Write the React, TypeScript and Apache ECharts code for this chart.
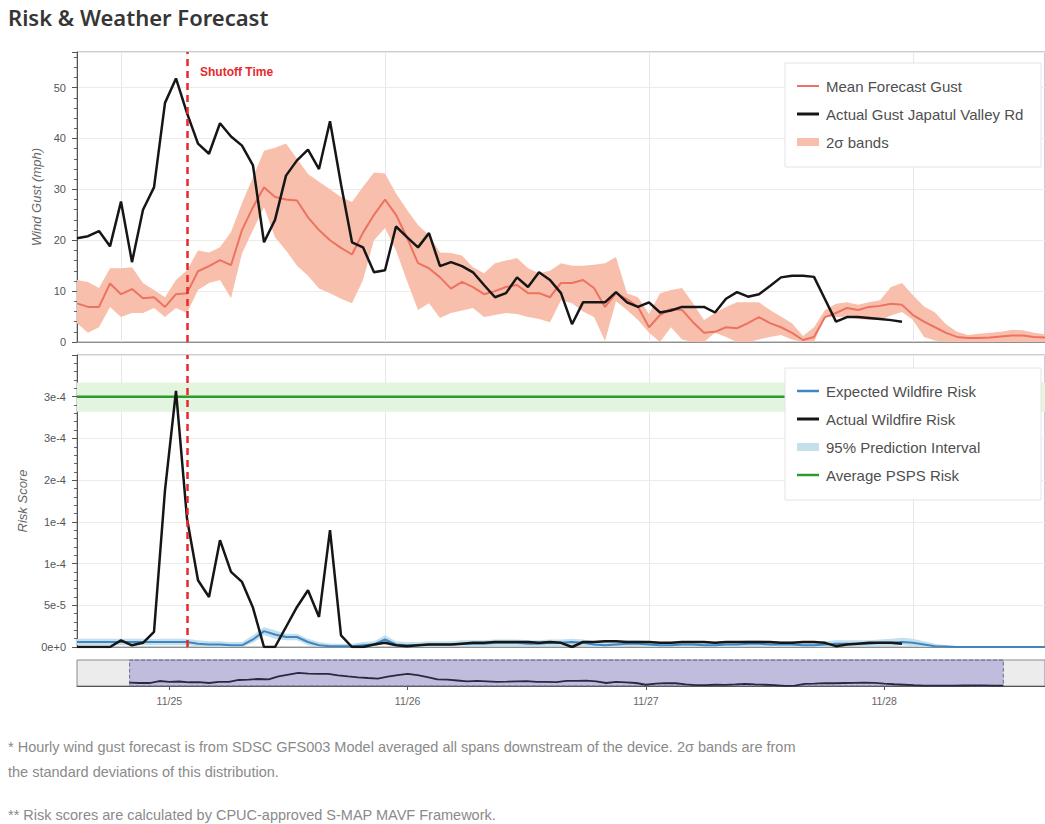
import React, { useEffect, useRef } from 'react';
import * as echarts from 'echarts';

// ---- time frame ----
const HOUR = 3600 * 1000;
const DAY = 24 * HOUR;
const START = new Date(2019, 10, 24, 20, 0).getTime(); // first hourly sample
const MAIN_MIN = START;
const MAIN_MAX = new Date(2019, 10, 28, 12, 0).getTime();
const OVERVIEW_MIN = new Date(2019, 10, 24, 14, 42).getTime();
const OVERVIEW_MAX = new Date(2019, 10, 28, 16, 12).getTime();
const SHUTOFF = new Date(2019, 10, 25, 6, 0).getTime();
const PSPS_END = new Date(2019, 10, 28, 11, 0).getTime();

// ---- wind gust (mph), hourly from 11/24 20:00 ----
const gustMean = [
  7.6, 6.9, 6.9, 11.5,
  9.4, 10.4, 8.6, 8.8, 6.9, 9.4, 9.6, 13.9, 14.9, 16.1, 15.1, 22, 26.5, 30.4, 28.5, 28, 27.8, 24.5, 22, 20, 18.5, 17.2, 21.5, 25,
  28, 25, 20.5, 15.5, 14.5, 12.7, 10.5, 11.8, 10.8, 9.4, 10, 10.8, 11.2, 9.6, 9.6, 8.8, 11.6, 11.6, 12.2, 10.6, 6.9, 9.6, 8.4, 6.9,
  2.9, 5.3, 6.5, 6.3, 3.9, 1.8, 2.0, 2.9, 2.7, 3.7, 4.9, 3.7, 2.9, 1.8, 0.4, 1.0, 4.9, 5.7, 6.7, 6.3, 6.9, 7.1, 7.5, 7.3,
  5.3, 4.0, 2.9, 1.8, 1.0, 0.8, 0.8, 0.9, 1.1, 1.3, 1.3, 1.0, 0.9,
];
const gustUpper = [
  12.2, 11.8, 10.6, 14.5,
  14.5, 14.7, 11.6, 10.2, 8.8, 12.2, 14.1, 18, 17.6, 18.6, 21.6, 27.3, 32.4, 37.6, 38.2, 39, 36, 33, 31.5, 30, 28.5, 27.5, 30.5, 33.3,
  33.1, 29.2, 26, 23, 21, 17.6, 17.5, 17, 14.7, 13.5, 15.5, 16, 16.5, 14.5, 13.5, 14, 15.5, 15, 15, 15.2, 15.5, 16.7, 9.6, 8.8,
  5.5, 9.6, 10.2, 10.6, 7.6, 4.3, 5.7, 6.9, 7.8, 7.8, 7.8, 6.3, 5, 3.7, 1.2, 2.9, 6.3, 7.5, 7.8, 7.3, 7.8, 8.2, 10.8, 11.6,
  9.2, 7, 5.8, 3.5, 2.0, 1.4, 1.6, 1.8, 2.0, 2.4, 2.3, 1.8, 1.5,
];
const gustLower = [
  3.7, 1.8, 2.9, 6.9,
  4.9, 5.7, 5.7, 6.7, 4.9, 6.7, 5.7, 10.2, 11.6, 12.2, 8.6, 17.4, 22, 26.5, 20.6, 18, 15, 13, 10.5, 9.6, 8.5, 7.6, 12.2, 20,
  22.4, 18, 12, 6.3, 7.6, 4.7, 5.7, 6.2, 6.7, 4.9, 5.3, 5.7, 5.5, 4.9, 4.5, 3.9, 8.2, 7.6, 6, 4.9, 0.2, 8, 6.3, 4.3,
  1.8, 0, 2.9, 0.5, 0, 0, 1.8, 1.0, 0, 0, 0.5, 1.0, 1.4, 0.5, 0, 0, 4.9, 4.9, 4.9, 4.5, 4.3, 4.3, 5.2, 5.9,
  4.3, 1.0, 0.3, 0, 0, 0, 0, 0, 0, 0, 0, 0, 0,
];
const gustActual = [
  20.4, 20.8, 21.8, 18.8,
  27.6, 15.7, 26, 30.4, 47, 51.8, 45, 39, 37, 43, 40.4, 38.6, 34.7, 19.6, 24, 32.7, 35.7, 37.8, 34, 43.4, 31, 19.6, 18.6, 13.7,
  14.1, 22.7, 20.6, 18.6, 21.4, 14.9, 15.7, 14.9, 13.7, 11.2, 8.8, 9.6, 12.7, 10.8, 13.7, 12.2, 9.6, 3.5, 7.8, 7.8, 7.8, 9.8, 7.8, 6.9,
  7.8, 5.8, 6.2, 6.9, 6.9, 6.9, 5.8, 8.5, 9.8, 8.9, 9.4, 11, 12.7, 13, 13, 12.8, 8.4, 4.0, 4.9, 4.9, 4.7, 4.5, 4.3, 4.0,
];

// ---- risk scores, in units of 1e-5, hourly from 11/24 20:00 ----
const riskActual = [
  0, 0, 0, 0,
  0.8, 0.2, 0.5, 1.8, 18.8, 30.7, 15.4, 8, 6, 12.8, 9, 7.8, 4.7, 0, 0, 2.4, 4.8, 6.8, 3.6, 14, 1.4, 0, 0, 0.3,
  0.5, 0.2, 0.1, 0.2, 0.3, 0.3, 0.3, 0.4, 0.5, 0.5, 0.6, 0.6, 0.6, 0.6, 0.5, 0.6, 0.5, 0, 0.6, 0.6, 0.7, 0.7, 0.6, 0.6,
  0.6, 0.5, 0.5, 0.6, 0.6, 0.6, 0.5, 0.6, 0.6, 0.6, 0.6, 0.6, 0.5, 0.5, 0.6, 0.6, 0.5, 0.1, 0.3, 0.4, 0.5, 0.5, 0.5, 0.4,
];
const riskExpected = [
  0.6, 0.6, 0.6, 0.6,
  0.6, 0.6, 0.6, 0.6, 0.6, 0.6, 0.6, 0.4, 0.3, 0.3, 0.2, 0.2, 0.9, 1.9, 1.5, 1.2, 1.2, 0.6, 0.2, 0.1, 0.1, 0.1, 0.2, 0.3,
  0.9, 0.3, 0.2, 0.2, 0.3, 0.3, 0.3, 0.4, 0.4, 0.4, 0.5, 0.5, 0.5, 0.4, 0.4, 0.5, 0.5, 0.6, 0.5, 0.3, 0.2, 0.3, 0.4, 0.4,
  0.3, 0.2, 0.2, 0.3, 0.3, 0.2, 0.2, 0.3, 0.3, 0.4, 0.4, 0.3, 0.3, 0.3, 0.2, 0.2, 0.3, 0.4, 0.4, 0.4, 0.4, 0.5, 0.5, 0.6,
  0.5, 0.3, 0.1, 0.05, 0, 0, 0, 0, 0, 0, 0, 0, 0,
];
const riskPiHigh = [
  1.0, 1.0, 1.0, 1.0,
  1.0, 1.0, 1.0, 1.0, 1.0, 1.0, 1.0, 0.8, 0.7, 0.7, 0.6, 0.6, 1.4, 2.4, 2.0, 1.6, 1.6, 1.0, 0.6, 0.4, 0.4, 0.4, 0.6, 0.7,
  1.4, 0.7, 0.6, 0.6, 0.7, 0.7, 0.7, 0.8, 0.8, 0.8, 0.9, 0.9, 0.9, 0.8, 0.8, 0.9, 0.9, 1.0, 0.9, 0.7, 0.6, 0.7, 0.8, 0.8,
  0.7, 0.6, 0.6, 0.7, 0.7, 0.6, 0.6, 0.7, 0.7, 0.8, 0.8, 0.7, 0.7, 0.7, 0.6, 0.6, 0.7, 0.8, 0.8, 0.8, 0.8, 0.9, 1.0, 1.1,
  1.0, 0.7, 0.4, 0.2, 0.1, 0.1, 0.1, 0.1, 0.1, 0.1, 0.1, 0.1, 0.1,
];
const riskPiLow = [
  0.2, 0.2, 0.2, 0.2,
  0.2, 0.2, 0.2, 0.2, 0.2, 0.2, 0.2, 0.1, 0, 0, 0, 0, 0.5, 1.4, 1.0, 0.8, 0.8, 0.2, 0, 0, 0, 0, 0, 0,
  0.5, 0, 0, 0, 0, 0, 0, 0.1, 0.1, 0.1, 0.1, 0.1, 0.1, 0.1, 0.1, 0.1, 0.1, 0.2, 0.1, 0, 0, 0, 0.1, 0.1,
  0, 0, 0, 0, 0, 0, 0, 0, 0, 0.1, 0.1, 0, 0, 0, 0, 0, 0, 0.1, 0.1, 0.1, 0.1, 0.1, 0.1, 0.2,
  0.1, 0, 0, 0, 0, 0, 0, 0, 0, 0, 0, 0, 0,
];
const pspsAverage = 30; // 3e-4
const pspsBand = [28.2, 31.7];

// ---- tick labels ----
const riskTickLabels = ['0e+0', '5e-5', '1e-4', '1e-4', '2e-4', '3e-4', '3e-4'];
const gustTickLabels = ['0', '10', '20', '30', '40', '50'];

// ---- text ----
const TITLE = 'Risk & Weather Forecast';
const FOOTNOTES = [
  '* Hourly wind gust forecast is from SDSC GFS003 Model averaged all spans downstream of the device. 2σ bands are from',
  'the standard deviations of this distribution.',
  '** Risk scores are calculated by CPUC-approved S-MAP MAVF Framework.',
];
const gustLegend = ['Mean Forecast Gust', 'Actual Gust Japatul Valley Rd', '2σ bands'];
const riskLegend = ['Expected Wildfire Risk', 'Actual Wildfire Risk', '95% Prediction Interval', 'Average PSPS Risk'];

const C = {
  mean: '#ec7262',
  band: '#f8c0ac',
  black: '#161616',
  blue: '#3f86c3',
  pi: '#c4e0ec',
  green: '#2c9a2c',
  greenBand: '#e3f5df',
  red: '#e8282c',
};

const hourly = (arr: number[]) => arr.map((v, i) => [START + i * HOUR, v]);

const FONT = '"Liberation Sans", Arial, sans-serif';

function legendBox(x: number, y: number, w: number, h: number, items: { label: string; kind: 'line' | 'rect'; color: string; width?: number }[]) {
  const els: any[] = [
    { type: 'rect', z: 100, shape: { x, y, width: w, height: h }, style: { fill: '#ffffff', stroke: '#e4e4e4', lineWidth: 1 } },
  ];
  items.forEach((it, k) => {
    const cy = y + 23 + k * 28;
    if (it.kind === 'line') {
      els.push({ type: 'line', z: 101, shape: { x1: x + 12, y1: cy, x2: x + 34, y2: cy }, style: { stroke: it.color, lineWidth: it.width || 2 } });
    } else {
      els.push({ type: 'rect', z: 101, shape: { x: x + 12, y: cy - 4, width: 22, height: 8 }, style: { fill: it.color } });
    }
    els.push({
      type: 'text', z: 101, x: x + 41, y: cy,
      style: { text: it.label, fill: '#4f4f4f', font: `15px ${FONT}`, verticalAlign: 'middle', align: 'left' },
    });
  });
  return els;
}

export default function App() {
  const ref = useRef<HTMLDivElement>(null);

  useEffect(() => {
    if (!ref.current) return;
    const chart = echarts.init(ref.current, undefined, { renderer: 'svg' });

    const bandDiff = gustUpper.map((u, i) => u - gustLower[i]);
    const piDiff = riskPiHigh.map((u, i) => u - riskPiLow[i]);

    const mainX = (gridIndex: number) => ({
      gridIndex,
      type: 'time',
      min: MAIN_MIN,
      max: MAIN_MAX,
      minInterval: DAY,
      maxInterval: DAY,
      axisLabel: { show: false },
      axisTick: { show: false },
      axisLine: { show: true, lineStyle: { color: '#8f8f8f' } },
      splitLine: { show: true, lineStyle: { color: '#e8e8e8', width: 1 } },
    });

    const yCommon = {
      type: 'value',
      nameLocation: 'middle',
      nameTextStyle: { fontStyle: 'italic', fontSize: 13, color: '#666', fontFamily: FONT },
      axisLine: { show: true, lineStyle: { color: '#555' } },
      axisTick: { show: true, length: 5, lineStyle: { color: '#555' } },
      minorTick: { show: true, splitNumber: 5, length: 3, lineStyle: { color: '#666' } },
      splitLine: { show: true, lineStyle: { color: '#ebebeb' } },
    };

    const option: any = {
      animation: false,
      backgroundColor: '#ffffff',
      grid: [
        { left: 77, top: 52, width: 975, height: 290, show: true, borderColor: '#9a9a9a', borderWidth: 1 },
        { left: 77, top: 355, width: 975, height: 292, show: true, borderColor: '#9a9a9a', borderWidth: 1 },
        { left: 77, top: 660, width: 975, height: 26, show: true, backgroundColor: '#ececec', borderColor: '#8a8a8a', borderWidth: 1 },
      ],
      xAxis: [
        mainX(0),
        mainX(1),
        {
          gridIndex: 2,
          type: 'time',
          min: OVERVIEW_MIN,
          max: OVERVIEW_MAX,
          minInterval: DAY,
          maxInterval: DAY,
          axisLine: { show: true, lineStyle: { color: '#555' } },
          axisTick: { show: true, length: 4, lineStyle: { color: '#555' } },
          axisLabel: {
            formatter: '{MM}/{dd}', color: '#666', fontSize: 10.5, margin: 9, fontFamily: FONT,
            showMinLabel: false, showMaxLabel: false,
          },
          splitLine: { show: false },
        },
      ],
      yAxis: [
        {
          ...yCommon, gridIndex: 0, min: 0, max: 57, interval: 10,
          name: 'Wind Gust (mph)', nameGap: 30,
          axisLabel: {
            color: '#555', fontSize: 11, margin: 11, fontFamily: FONT, showMaxLabel: false,
            formatter: (v: number) => gustTickLabels[Math.round(v / 10)] ?? '',
          },
        },
        {
          ...yCommon, gridIndex: 1, min: 0, max: 35, interval: 5,
          name: 'Risk Score', nameGap: 48,
          axisLabel: {
            color: '#555', fontSize: 11, margin: 11, fontFamily: FONT, showMaxLabel: false,
            formatter: (v: number) => riskTickLabels[Math.round(v / 5)] ?? '',
          },
        },
        { gridIndex: 2, type: 'value', min: 0, max: 60, show: false },
      ],
      series: [
        // ---- gust panel ----
        {
          name: 'bandBase', type: 'line', xAxisIndex: 0, yAxisIndex: 0, stack: 'gust',
          data: hourly(gustLower), showSymbol: false, silent: true,
          lineStyle: { opacity: 0 },
        },
        {
          name: '2σ bands', type: 'line', xAxisIndex: 0, yAxisIndex: 0, stack: 'gust',
          data: hourly(bandDiff), showSymbol: false, silent: true,
          lineStyle: { opacity: 0 }, areaStyle: { color: C.band, opacity: 1 },
        },
        {
          name: 'Mean Forecast Gust', type: 'line', xAxisIndex: 0, yAxisIndex: 0,
          data: hourly(gustMean), showSymbol: false,
          lineStyle: { color: C.mean, width: 2 },
        },
        {
          name: 'Actual Gust Japatul Valley Rd', type: 'line', xAxisIndex: 0, yAxisIndex: 0,
          data: hourly(gustActual), showSymbol: false,
          lineStyle: { color: C.black, width: 2.5 },
          markLine: {
            silent: true, symbol: ['none', 'none'], label: { show: false },
            lineStyle: { color: C.red, type: [7, 5], width: 2.5 },
            data: [{ xAxis: SHUTOFF }],
          },
        },
        // ---- risk panel ----
        {
          name: 'Average PSPS Risk', type: 'line', xAxisIndex: 1, yAxisIndex: 1,
          data: [[MAIN_MIN, pspsAverage], [PSPS_END, pspsAverage]], showSymbol: false,
          lineStyle: { color: C.green, width: 2.5 },
          markArea: {
            silent: true, itemStyle: { color: C.greenBand },
            data: [[{ yAxis: pspsBand[0] }, { yAxis: pspsBand[1] }]],
          },
        },
        {
          name: 'pspsEnd', type: 'scatter', xAxisIndex: 1, yAxisIndex: 1,
          data: [[PSPS_END, pspsAverage]], symbol: 'circle', symbolSize: 5,
          itemStyle: { color: C.green }, silent: true,
        },
        {
          name: 'piBase', type: 'line', xAxisIndex: 1, yAxisIndex: 1, stack: 'risk',
          data: hourly(riskPiLow), showSymbol: false, silent: true, lineStyle: { opacity: 0 },
        },
        {
          name: '95% Prediction Interval', type: 'line', xAxisIndex: 1, yAxisIndex: 1, stack: 'risk',
          data: hourly(piDiff), showSymbol: false, silent: true,
          lineStyle: { opacity: 0 }, areaStyle: { color: C.pi, opacity: 1 },
        },
        {
          name: 'Expected Wildfire Risk', type: 'line', xAxisIndex: 1, yAxisIndex: 1,
          data: hourly(riskExpected), showSymbol: false,
          lineStyle: { color: C.blue, width: 2 },
        },
        {
          name: 'Actual Wildfire Risk', type: 'line', xAxisIndex: 1, yAxisIndex: 1,
          data: hourly(riskActual), showSymbol: false,
          lineStyle: { color: C.black, width: 2.5 },
          markLine: {
            silent: true, symbol: ['none', 'none'], label: { show: false },
            lineStyle: { color: C.red, type: [7, 5], width: 2.5 },
            data: [{ xAxis: SHUTOFF }],
          },
        },
        // ---- overview ----
        {
          name: 'overview', type: 'line', xAxisIndex: 2, yAxisIndex: 2,
          data: hourly(gustMean), showSymbol: false, silent: true,
          lineStyle: { color: '#2a2840', width: 1.8 },
          markArea: {
            silent: true,
            itemStyle: { color: 'rgba(140,130,205,0.45)', borderColor: '#6a6a8a', borderWidth: 1, borderType: 'dashed' },
            data: [[{ xAxis: MAIN_MIN }, { xAxis: MAIN_MAX }]],
          },
        },
      ],
      graphic: [
        {
          type: 'text', z: 100, x: 8, y: 17,
          style: { text: TITLE, fill: '#363636', font: `600 22px "Noto Sans", sans-serif`, verticalAlign: 'middle' },
        },
        {
          type: 'text', z: 100, x: 200, y: 72,
          style: { text: 'Shutoff Time', fill: C.red, font: `bold 12px ${FONT}`, verticalAlign: 'middle' },
        },
        ...legendBox(785, 63, 256, 104, [
          { label: gustLegend[0], kind: 'line', color: C.mean, width: 2 },
          { label: gustLegend[1], kind: 'line', color: C.black, width: 3 },
          { label: gustLegend[2], kind: 'rect', color: C.band },
        ]),
        ...legendBox(785, 368, 256, 132, [
          { label: riskLegend[0], kind: 'line', color: C.blue, width: 2.5 },
          { label: riskLegend[1], kind: 'line', color: C.black, width: 3 },
          { label: riskLegend[2], kind: 'rect', color: C.pi },
          { label: riskLegend[3], kind: 'line', color: C.green, width: 2.5 },
        ]),
        ...FOOTNOTES.map((t, k) => ({
          type: 'text', z: 100, x: 8, y: [747, 772, 815][k],
          style: {
            text: t, fill: '#8a8a8a', verticalAlign: 'middle',
            font: `14.5px "Liberation Sans", sans-serif`,
          },
        })),
      ],
    };

    chart.setOption(option);
    return () => chart.dispose();
  }, []);

  return <div ref={ref} style={{ position: 'absolute', left: 0, top: 0, width: 1045, height: 824 }} />;
}
